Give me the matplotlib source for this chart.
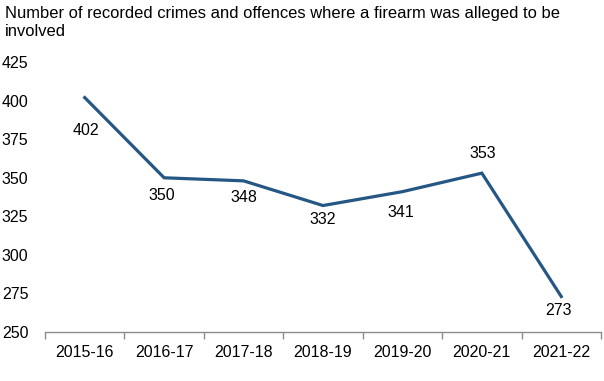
import matplotlib.pyplot as plt
import numpy as np

plt.rcParams['font.family'] = ['Liberation Sans', 'DejaVu Sans']

years = ["2015-16", "2016-17", "2017-18", "2018-19", "2019-20", "2020-21", "2021-22"]
crimes = [402, 350, 348, 332, 341, 353, 273]

# label offsets in points (dx, dy)
label_offsets = [(1, -24), (-2, -13), (0, -12), (0, -10), (-1, -15), (1, 14), (-2, -10)]

fig = plt.figure(figsize=(6.04, 3.81), dpi=100)
ax = fig.add_axes([0.0745, 0.1286, 0.9205, 0.7084])

x = np.arange(len(years))
ax.plot(x, crimes, color="#255784", linewidth=2.3, solid_joinstyle="miter")

for xi, v, (dx, dy) in zip(x, crimes, label_offsets):
    ax.annotate(str(v), (xi, v), xytext=(dx, dy), textcoords="offset points",
                ha="center", va="center", fontsize=11.5, color="black")

ax.set_xlim(-0.5, len(years) - 0.5)
ax.set_ylim(250, 425)
ax.set_yticks(np.arange(250, 426, 25))
ax.set_xticks(x)
ax.set_xticklabels(years)
ax.set_xticks(np.arange(-0.5, len(years), 1), minor=True)

for s in ["left", "right", "top"]:
    ax.spines[s].set_visible(False)
ax.spines["bottom"].set_color("#8c8c8c")
ax.spines["bottom"].set_linewidth(1.0)

ax.tick_params(axis="y", length=0, labelsize=11.5, pad=12)
ax.tick_params(axis="x", which="major", length=0, labelsize=11.5, pad=9)
ax.tick_params(axis="x", which="minor", length=5, color="#8c8c8c", width=1.0, direction="out")

fig.text(0.008, 0.984, "Number of recorded crimes and offences where a firearm was alleged to be\ninvolved",
         ha="left", va="top", fontsize=11.9, linespacing=1.22)

fig.savefig("out.png", dpi=100)
